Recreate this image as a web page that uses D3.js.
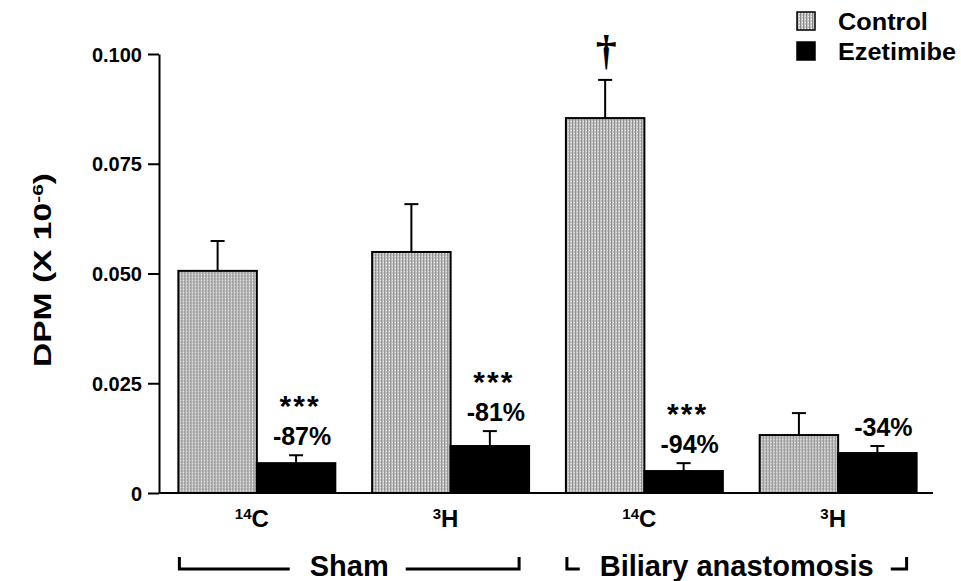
<!DOCTYPE html>
<meta charset="utf-8">
<style>
  body { margin: 0; background: #fff; }
  svg { display: block; }
  text { font-family: "Liberation Sans", Arial, sans-serif; font-weight: bold; fill: #000; }
  .axis path, .axis line { stroke: #000; stroke-width: 2px; }
  .bar { stroke: #000; stroke-width: 2px; }
  .err { stroke: #000; stroke-width: 2px; fill: none; }
</style>
<body>
<script src="https://cdn.jsdelivr.net/npm/d3@7"></script>
<script>

// isotope of each group, left to right
var isotopeMass = ["14", "3", "14", "3"];
var isotopeElem = ["C", "H", "C", "H"];

// bar heights (DPM x 10^-6) and the top of each error bar
var control      = [0.0506, 0.0549, 0.0854, 0.0132];
var controlTop   = [0.0574, 0.0658, 0.0941, 0.0182];
var ezetimibe    = [0.0068, 0.0107, 0.0050, 0.0091];
var ezetimibeTop = [0.0086, 0.0141, 0.0068, 0.0107];

// annotations
var changeLabels = ["-87%", "-81%", "-94%", "-34%"];
var starLabels   = ["***", "***", "***", ""];
var controlMarks = ["", "", "\u2020", ""];

var series = ["Control", "Ezetimibe"];
var yTicks = [0, 0.025, 0.05, 0.075, 0.1];

// surgery groups under the isotopes
var surgeryNames = ["Sham", "Biliary anastomosis"];
var surgeryFirst = [0, 2];
var surgeryLast  = [1, 3];

var width = 961, height = 581;

var svg = d3.select("body").append("svg")
    .attr("width", width)
    .attr("height", height);

// stippled grey used for the control bars
var defs = svg.append("defs");
var pat = defs.append("pattern")
    .attr("id", "stipple")
    .attr("patternUnits", "userSpaceOnUse")
    .attr("width", 3).attr("height", 3);
pat.append("rect").attr("width", 3).attr("height", 3).attr("fill", "#c4c4c4");
pat.append("rect").attr("width", 1).attr("height", 3).attr("fill", "#8a8a8a");
pat.append("rect").attr("x", 2).attr("y", 1).attr("width", 1).attr("height", 1).attr("fill", "#f4f4f4");

var fills = { Control: "url(#stipple)", Ezetimibe: "#000" };

var y = d3.scaleLinear().domain([0, 0.1]).range([493, 54]);

var x = d3.scaleBand()
    .domain(d3.range(control.length))
    .range([159, 936])
    .paddingInner(0.19)
    .paddingOuter(0.1);

var xs = d3.scaleBand().domain(series).range([0, x.bandwidth()]);

// y axis
var yAxis = svg.append("g")
    .attr("class", "axis")
    .attr("transform", "translate(159,0)")
    .call(d3.axisLeft(y)
        .tickValues(yTicks)
        .tickSize(11)
        .tickSizeOuter(0)
        .tickPadding(6)
        .tickFormat(function(d) { return d === 0 ? "0" : d3.format(".3f")(d); }));
yAxis.selectAll("text")
    .style("font-size", "20px")
    .attr("dy", "0.36em");

// baseline
svg.append("line")
    .attr("x1", 159).attr("x2", 933)
    .attr("y1", y(0)).attr("y2", y(0))
    .attr("stroke", "#000").attr("stroke-width", 2);

// bars
var rows = d3.range(control.length).map(function(i) {
  return [
    { i: i, s: "Control", v: control[i], top: controlTop[i] },
    { i: i, s: "Ezetimibe", v: ezetimibe[i], top: ezetimibeTop[i] }
  ];
});

var groups = svg.append("g").selectAll("g")
    .data(rows)
    .enter().append("g")
    .attr("transform", function(d, i) { return "translate(" + x(i) + ",0)"; });

// error bars first so the bar outline sits on top
var err = groups.selectAll(".errg")
    .data(function(d) { return d; })
    .enter().append("g").attr("class", "errg");
err.append("line").attr("class", "err")
    .attr("x1", function(d) { return xs(d.s) + xs.bandwidth() / 2; })
    .attr("x2", function(d) { return xs(d.s) + xs.bandwidth() / 2; })
    .attr("y1", function(d) { return y(d.v); })
    .attr("y2", function(d) { return y(d.top); });
err.append("line").attr("class", "err")
    .attr("x1", function(d) { return xs(d.s) + xs.bandwidth() / 2 - 7; })
    .attr("x2", function(d) { return xs(d.s) + xs.bandwidth() / 2 + 7; })
    .attr("y1", function(d) { return y(d.top); })
    .attr("y2", function(d) { return y(d.top); });

groups.selectAll("rect")
    .data(function(d) { return d; })
    .enter().append("rect")
    .attr("class", "bar")
    .attr("x", function(d) { return xs(d.s); })
    .attr("width", xs.bandwidth())
    .attr("y", function(d) { return y(d.v); })
    .attr("height", function(d) { return y(0) - y(d.v); })
    .attr("fill", function(d) { return fills[d.s]; });

// % change and significance over the ezetimibe bars
groups.append("text")
    .attr("text-anchor", "middle")
    .attr("x", xs("Ezetimibe") + xs.bandwidth() / 2 + 6)
    .attr("y", function(d, i) { return y(ezetimibeTop[i]) - 10; })
    .style("font-size", "25px")
    .text(function(d, i) { return changeLabels[i]; });

groups.append("text")
    .attr("text-anchor", "middle")
    .attr("x", xs("Ezetimibe") + xs.bandwidth() / 2 + 4)
    .attr("y", function(d, i) { return y(ezetimibeTop[i]) - 10 - 29; })
    .style("font-size", "30px")
    .style("letter-spacing", "2px")
    .text(function(d, i) { return starLabels[i]; });

// dagger over the control bar
groups.append("text")
    .attr("text-anchor", "middle")
    .attr("x", xs("Control") + xs.bandwidth() / 2 + 1)
    .attr("y", function(d, i) { return y(controlTop[i]) - 16; })
    .style("font-family", "'Liberation Serif', serif")
    .style("font-size", "42px")
    .text(function(d, i) { return controlMarks[i]; });

// isotope labels
var iso = svg.append("g").selectAll("text")
    .data(isotopeElem)
    .enter().append("text")
    .attr("text-anchor", "middle")
    .attr("x", function(d, i) { return x(i) + x.bandwidth() / 2 - 5; })
    .attr("y", 527)
    .style("font-size", "24px");
iso.append("tspan")
    .attr("baseline-shift", "super")
    .style("font-size", "15px")
    .text(function(d, i) { return isotopeMass[i]; });
iso.append("tspan")
    .text(function(d) { return d; });

// surgery brackets
var brackets = svg.append("g").selectAll("g")
    .data(surgeryNames)
    .enter().append("g");

brackets.each(function(name, k) {
  var g = d3.select(this);
  var left = x(surgeryFirst[k]) + 1;
  var right = x(surgeryLast[k]) + x.bandwidth() - 10;
  var mid = (left + right) / 2;
  var label = g.append("text")
      .attr("x", mid).attr("y", 576)
      .attr("text-anchor", "middle")
      .style("font-size", "29px")
      .text(name);
  var w = label.node().getComputedTextLength();
  var by = 569;
  g.append("path")
      .attr("d", "M" + left + "," + (by - 12) + "V" + by + "H" + (mid - w / 2 - 20))
      .attr("fill", "none").attr("stroke", "#000").attr("stroke-width", 3);
  g.append("path")
      .attr("d", "M" + (mid + w / 2 + 17) + "," + by + "H" + right + "V" + (by - 12))
      .attr("fill", "none").attr("stroke", "#000").attr("stroke-width", 3);
});

// y title, drawn wide like the original lettering
svg.append("text")
    .attr("transform", "translate(51,270) rotate(-90) scale(1.4,1)")
    .attr("text-anchor", "middle")
    .style("font-size", "24px")
    .call(function(t) {
      t.append("tspan").text("DPM (X 10");
      t.append("tspan").attr("baseline-shift", "super").style("font-size", "15px").text("-6");
      t.append("tspan").text(")");
    });

// legend
var legend = svg.append("g").selectAll("g")
    .data(series)
    .enter().append("g")
    .attr("transform", function(d, i) { return "translate(797," + (12 + i * 30) + ")"; });
legend.append("rect")
    .attr("width", 18).attr("height", 18)
    .attr("fill", function(d) { return fills[d]; })
    .attr("stroke", "#000").attr("stroke-width", 1.5);
legend.append("text")
    .attr("transform", "translate(41,18) scale(1.1,1)")
    .style("font-size", "23px")
    .text(function(d) { return d; });

</script>
</body>
